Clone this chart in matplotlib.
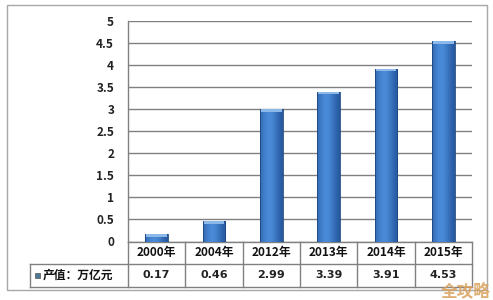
import matplotlib
matplotlib.use("Agg")
import matplotlib.pyplot as plt
import numpy as np
from matplotlib.patches import Rectangle

plt.rcParams['font.family'] = ['Noto Sans CJK SC', 'DejaVu Sans']

categories = ["2000年", "2004年", "2012年", "2013年", "2014年", "2015年"]
values = [0.17, 0.46, 2.99, 3.39, 3.91, 4.53]
value_labels = ["0.17", "0.46", "2.99", "3.39", "3.91", "4.53"]
series_name = "产值：万亿元"
yticks = [0, 0.5, 1, 1.5, 2, 2.5, 3, 3.5, 4, 4.5, 5]
ytick_labels = ["0", "0.5", "1", "1.5", "2", "2.5", "3", "3.5", "4", "4.5", "5"]

W, H = 493, 300
fig = plt.figure(figsize=(W / 100, H / 100), dpi=100)
fig.patch.set_facecolor("white")

# outer frame
fig.add_artist(Rectangle((7 / W, 1 - 290 / H), (487 - 7) / W, (290 - 5) / H,
                         transform=fig.transFigure, fill=False,
                         edgecolor="#a8a8a8", lw=1.0))

left, right, top, bottom = 128, 472, 20.5, 241.5
ax = fig.add_axes([left / W, 1 - bottom / H, (right - left) / W, (bottom - top) / H])
ax.set_xlim(-0.5, len(categories) - 0.5)
ax.set_ylim(0, 5)
for s in ["top", "right", "bottom"]:
    ax.spines[s].set_visible(False)
ax.spines["left"].set_color("#808080")
ax.spines["left"].set_linewidth(1.0)
ax.set_yticks(yticks)
ax.set_yticklabels(ytick_labels, fontsize=8.5, fontweight="bold", color="#222222")
ax.tick_params(axis="y", length=0, pad=10)
ax.set_xticks([])
ax.yaxis.grid(True, color="#808080", lw=1.0)
ax.set_axisbelow(True)

# bars with horizontal gradient
x = np.arange(len(categories))
bw = 0.4
grad = np.linspace(0, 1, 64)
prof = np.exp(-((grad - 0.4) / 0.45) ** 2)
c_dark = np.array([0x1f, 0x4f, 0x93]) / 255
c_light = np.array([0x4a, 0x8a, 0xd8]) / 255
img = c_dark[None, :] + (c_light - c_dark)[None, :] * prof[:, None]
img = img[None, :, :]
for xi, v in zip(x, values):
    ax.imshow(img, extent=(xi - bw / 2, xi + bw / 2, 0, v), aspect="auto", zorder=3)
    ax.add_patch(Rectangle((xi - bw / 2, 0), bw, v, fill=False, edgecolor="#1c467f", lw=0.6, zorder=4))
    ax.add_patch(Rectangle((xi - bw / 2 + 0.02, v - 0.06), bw - 0.04, 0.06, facecolor="#8db8ea",
                           edgecolor="none", zorder=5))
ax.set_xlim(-0.5, len(categories) - 0.5)
ax.set_ylim(0, 5)

# data table beneath
tr = ax.get_xaxis_transform()
row1 = -(264 - bottom) / (bottom - top)
row2 = -(287 - bottom) / (bottom - top)
lab_left = -0.5 + (30 - left) / ((right - left) / len(categories))
lc = "#808080"
ax.plot([lab_left, len(categories) - 0.5], [row1, row1], transform=tr, color=lc, lw=1, clip_on=False)
ax.plot([lab_left, len(categories) - 0.5], [row2, row2], transform=tr, color=lc, lw=1, clip_on=False)
ax.plot([-0.5, len(categories) - 0.5], [0, 0], transform=tr, color=lc, lw=1, clip_on=False)
ax.plot([lab_left, lab_left], [row1, row2], transform=tr, color=lc, lw=1, clip_on=False)
for i in range(len(categories) + 1):
    xb = i - 0.5
    ax.plot([xb, xb], [0, row2], transform=tr, color=lc, lw=1, clip_on=False)

for xi, c, vl in zip(x, categories, value_labels):
    ax.text(xi, row1 / 2, c, transform=tr, ha="center", va="center",
            fontsize=8.5, fontweight="bold", color="#111111")
    ax.text(xi, (row1 + row2) / 2, vl, transform=tr, ha="center", va="center",
            fontsize=8, fontweight="bold", color="#222222", family="DejaVu Sans")

ax.add_patch(Rectangle((lab_left + 0.08, (row1 + row2) / 2 - 0.012), 0.09, 0.024, transform=tr,
                       facecolor="#4a7a95", edgecolor="#555555", lw=0.5, clip_on=False))
ax.text(lab_left + 0.22, (row1 + row2) / 2, series_name, transform=tr, ha="left", va="center",
        fontsize=8.5, fontweight="bold", color="#111111")

# watermark
fig.text(466 / W, 1 - 291 / H, "全攻略", ha="center", va="center", fontsize=12,
         fontweight="bold", color="#d9a05a", alpha=0.85)

fig.savefig("out.png", dpi=100, facecolor="white")
